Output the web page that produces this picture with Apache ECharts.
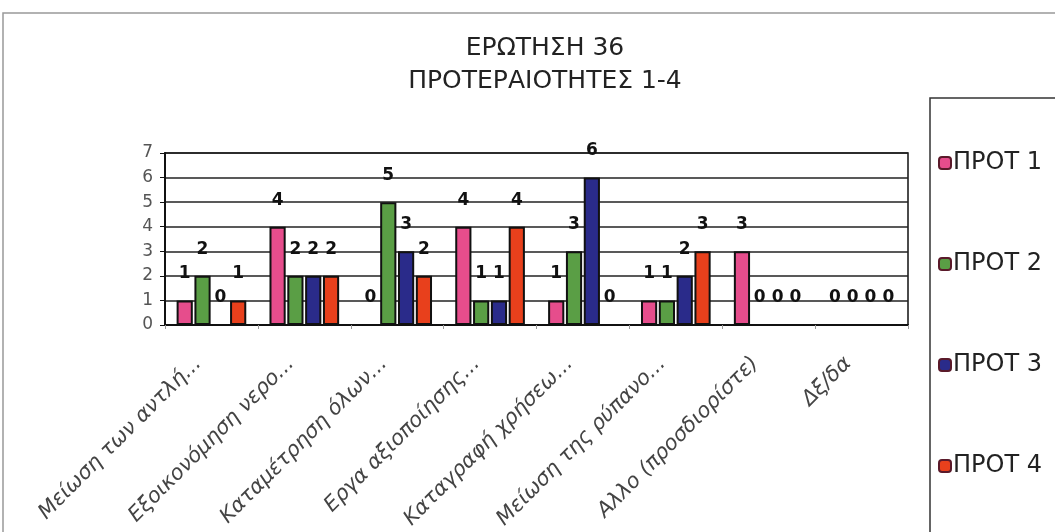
<!DOCTYPE html>
<html>
<head>
<meta charset="utf-8">
<script src="https://cdn.jsdelivr.net/npm/echarts@6/dist/echarts.min.js"></script>
<style>
  html, body { margin: 0; padding: 0; background: #fff; }
  #chart { width: 1055px; height: 532px; }
</style>
</head>
<body>
<div id="chart"></div>
<script>
// κατηγορίες
var categories = ['Μείωση των αντλή...', 'Εξοικονόμηση νερο...', 'Καταμέτρηση όλων...',
    'Εργα αξιοποίησης...', 'Καταγραφή χρήσεω...', 'Μείωση της ρύπανο...',
    'Αλλο (προσδιορίστε)', 'Δξ/δα'];
var seriesNames = ['ΠΡΟΤ 1', 'ΠΡΟΤ 2', 'ΠΡΟΤ 3', 'ΠΡΟΤ 4'];
var prot1 = [1, 4, 0, 4, 1, 1, 3, 0];
var prot2 = [2, 2, 5, 1, 3, 1, 0, 0];
var prot3 = [0, 2, 3, 1, 6, 2, 0, 0];
var prot4 = [1, 2, 2, 4, 0, 3, 0, 0];
var yTicks = [0, 1, 2, 3, 4, 5, 6, 7];

var colors = ['#e64d8c', '#5a9e45', '#2a2b8a', '#e8401c'];
var allData = [prot1, prot2, prot3, prot4];

var chart = echarts.init(document.getElementById('chart'));

var series = [];
for (var i = 0; i < allData.length; i++) {
    series.push({
        name: seriesNames[i],
        type: 'bar',
        data: allData[i],
        barCategoryGap: '25%',
        barGap: '10%',
        itemStyle: {
            color: colors[i],
            borderColor: '#111',
            borderWidth: 2
        },
        label: {
            show: true,
            position: 'top',
            distance: 18,
            color: '#111',
            fontFamily: 'DejaVu Sans',
            fontWeight: 'bold',
            fontSize: 17
        }
    });
}

var option = {
    animation: false,
    backgroundColor: '#fff',
    color: colors,
    title: {
        text: 'ΕΡΩΤΗΣΗ 36\nΠΡΟΤΕΡΑΙΟΤΗΤΕΣ 1-4',
        left: 540,
        textAlign: 'center',
        top: 27,
        textStyle: {
            fontFamily: 'DejaVu Sans',
            fontWeight: 'normal',
            fontSize: 25,
            lineHeight: 33,
            color: '#222'
        }
    },
    graphic: [{
        type: 'rect',
        shape: { x: 3, y: 13, width: 1100, height: 600 },
        style: { fill: 'none', stroke: '#999', lineWidth: 1.5 },
        silent: true
    }, {
        // cadre de la légende
        type: 'rect',
        shape: { x: 930, y: 98, width: 300, height: 600 },
        style: { fill: 'none', stroke: '#333', lineWidth: 1.5 },
        silent: true
    }],
    legend: {
        orient: 'vertical',
        left: 938,
        top: 151,
        padding: 0,
        itemGap: 77,
        itemWidth: 12,
        itemHeight: 12,
        data: seriesNames,
        itemStyle: { borderColor: '#5a1a2a', borderWidth: 2 },
        textStyle: {
            fontFamily: 'DejaVu Sans',
            fontSize: 24,
            color: '#222',
            padding: [0, 0, 0, -3]
        }
    },
    grid: {
        left: 165,
        right: 1055 - 908,
        top: 153,
        bottom: 532 - 325,
        show: true,
        borderColor: '#111',
        borderWidth: 1.5
    },
    xAxis: {
        type: 'category',
        data: categories,
        axisLine: { lineStyle: { color: '#111', width: 2 } },
        axisTick: { show: true, length: 4, lineStyle: { color: '#999' } },
        axisLabel: {
            interval: 0,
            rotate: 45,
            margin: 22,
            padding: [0, 19, 0, 0],
            fontFamily: 'DejaVu Sans',
            fontStyle: 'italic',
            fontSize: 21,
            color: '#444'
        }
    },
    yAxis: {
        type: 'value',
        min: yTicks[0],
        max: yTicks[yTicks.length - 1],
        interval: 1,
        axisLine: { show: true, lineStyle: { color: '#111', width: 2 } },
        axisTick: { show: true, length: 5, lineStyle: { color: '#111' } },
        splitLine: { lineStyle: { color: '#222', width: 1.5 } },
        axisLabel: {
            margin: 12,
            fontFamily: 'DejaVu Sans',
            fontSize: 17,
            color: '#555'
        }
    },
    series: series
};

chart.setOption(option);
</script>
</body>
</html>
